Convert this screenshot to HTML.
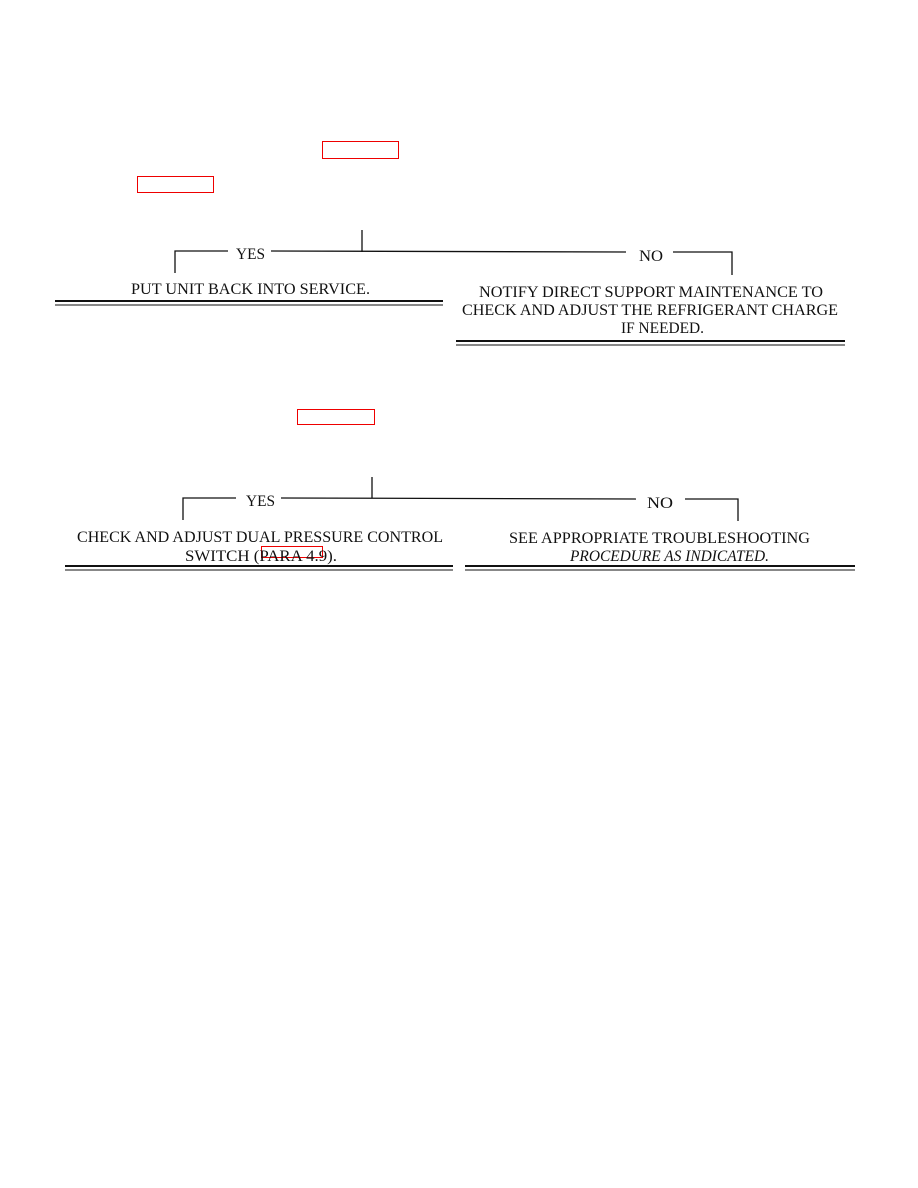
<!DOCTYPE html>
<html><head><meta charset="utf-8"><style>
html,body{margin:0;padding:0;background:#fff;}
svg{display:block;}
text{font-family:"Liberation Serif",serif;font-size:16px;fill:#111;}
</style></head><body>
<svg width="918" height="1188" viewBox="0 0 918 1188" xmlns="http://www.w3.org/2000/svg">
<g fill="none" stroke="#e00" stroke-width="1">
<rect x="322.5" y="141.5" width="76" height="17"/>
<rect x="137.5" y="176.5" width="76" height="16"/>
<rect x="297.5" y="409.5" width="77" height="15"/>
<rect x="261.5" y="546.5" width="61" height="11"/>
</g>
<g stroke="#111" stroke-width="1.3" fill="none">
<line x1="362" y1="230" x2="362" y2="252"/>
<polyline points="175,273 175,251 228,251"/>
<line x1="271" y1="251" x2="626" y2="252"/>
<polyline points="673,252 732,252 732,275"/>
<line x1="372" y1="477" x2="372" y2="498"/>
<polyline points="183,520 183,498 236,498"/>
<line x1="281" y1="498" x2="636" y2="499"/>
<polyline points="685,499 738,499 738,521"/>
</g>
<g stroke="#111" fill="none">
<line x1="55" y1="301" x2="443" y2="301" stroke-width="2"/>
<line x1="55" y1="305" x2="443" y2="305" stroke-width="1"/>
<line x1="456" y1="341" x2="845" y2="341" stroke-width="2"/>
<line x1="456" y1="345" x2="845" y2="345" stroke-width="1"/>
<line x1="65" y1="566" x2="453" y2="566" stroke-width="2"/>
<line x1="65" y1="570" x2="453" y2="570" stroke-width="1"/>
<line x1="465" y1="566" x2="855" y2="566" stroke-width="2"/>
<line x1="465" y1="570" x2="855" y2="570" stroke-width="1"/>
</g>
<text x="236" y="259" textLength="29" lengthAdjust="spacingAndGlyphs">YES</text>
<text x="639" y="261" textLength="24" lengthAdjust="spacingAndGlyphs">NO</text>
<text x="131" y="294" textLength="239" lengthAdjust="spacingAndGlyphs">PUT UNIT BACK INTO SERVICE.</text>
<text x="479" y="297" textLength="344" lengthAdjust="spacingAndGlyphs">NOTIFY DIRECT SUPPORT MAINTENANCE TO</text>
<text x="462" y="315" textLength="376" lengthAdjust="spacingAndGlyphs">CHECK AND ADJUST THE REFRIGERANT CHARGE</text>
<text x="621" y="333" textLength="83" lengthAdjust="spacingAndGlyphs">IF NEEDED.</text>
<text x="246" y="506" textLength="29" lengthAdjust="spacingAndGlyphs">YES</text>
<text x="647" y="508" textLength="26" lengthAdjust="spacingAndGlyphs">NO</text>
<text x="77" y="542" textLength="366" lengthAdjust="spacingAndGlyphs">CHECK AND ADJUST DUAL PRESSURE CONTROL</text>
<text x="185" y="561" textLength="152" lengthAdjust="spacingAndGlyphs">SWITCH (PARA 4.9).</text>
<text x="509" y="543" textLength="301" lengthAdjust="spacingAndGlyphs">SEE APPROPRIATE TROUBLESHOOTING</text>
<text x="570" y="561" textLength="199" lengthAdjust="spacingAndGlyphs" font-style="italic">PROCEDURE AS INDICATED.</text>
</svg>
</body></html>
